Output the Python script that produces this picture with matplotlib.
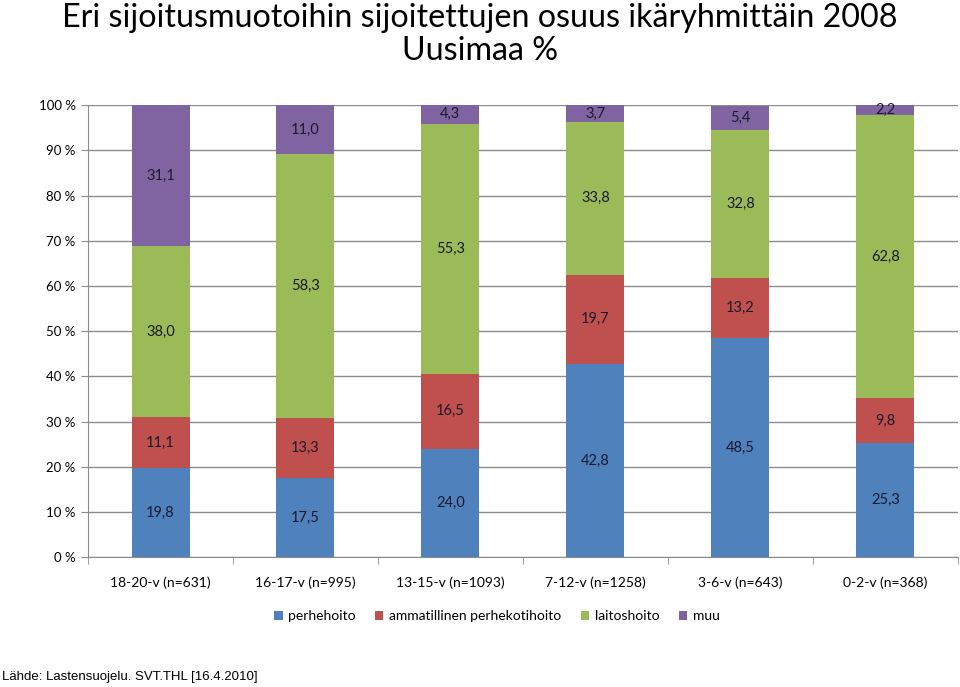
import matplotlib.pyplot as plt
import numpy as np

plt.rcParams["font.family"] = ["Lato", "DejaVu Sans"]

categories = ["18-20-v (n=631)", "16-17-v (n=995)", "13-15-v (n=1093)",
              "7-12-v (n=1258)", "3-6-v (n=643)", "0-2-v (n=368)"]
perhehoito = [19.8, 17.5, 24.0, 42.8, 48.5, 25.3]
ammatillinen = [11.1, 13.3, 16.5, 19.7, 13.2, 9.8]
laitoshoito = [38.0, 58.3, 55.3, 33.8, 32.8, 62.8]
muu = [31.1, 11.0, 4.3, 3.7, 5.4, 2.2]

series = [
    ("perhehoito", perhehoito, "#4F81BD"),
    ("ammatillinen perhekotihoito", ammatillinen, "#C0504D"),
    ("laitoshoito", laitoshoito, "#9BBB59"),
    ("muu", muu, "#8064A2"),
]

fig = plt.figure(figsize=(9.6, 6.87), dpi=100)
ax = fig.add_axes([0.0917, 0.189, 0.906, 0.658])

x = np.arange(len(categories))
bottom = np.zeros(len(categories))
for name, vals, color in series:
    vals = np.array(vals)
    ax.bar(x, vals, width=0.4, bottom=bottom, color=color, label=name, zorder=3)
    for xi, b, v in zip(x, bottom, vals):
        ax.text(xi, b + v / 2, f"{v:.1f}".replace(".", ","), ha="center", va="center",
                fontsize=10.5, color="#1a1a2e", zorder=4)
    bottom = bottom + vals

ax.set_xlim(-0.5, len(categories) - 0.5)
ax.set_ylim(0, 100)
ax.set_yticks(np.arange(0, 101, 10))
ax.set_yticklabels([f"{v} %" for v in range(0, 101, 10)], fontsize=9.5)
ax.yaxis.grid(True, color="#8c8c8c", linewidth=1, zorder=0)
ax.set_xticks(x)
ax.set_xticklabels(categories, fontsize=10)
ax.set_xticks(np.arange(-0.5, len(categories), 1), minor=True)
ax.tick_params(axis="x", which="major", length=0, pad=14)
ax.tick_params(axis="x", which="minor", length=5, color="#8c8c8c")
ax.tick_params(axis="y", length=5, color="#8c8c8c", pad=4)
for side in ["top", "right"]:
    ax.spines[side].set_visible(False)
for side in ["left", "bottom"]:
    ax.spines[side].set_color("#8c8c8c")

fig.text(0.5, 0.995, "Eri sijoitusmuotoihin sijoitettujen osuus ikäryhmittäin 2008\nUusimaa %",
         ha="center", va="top", fontsize=23.2, linespacing=1.1)

ax.legend(loc="upper center", bbox_to_anchor=(0.47, -0.09), ncol=4, frameon=False,
          fontsize=10, handlelength=0.6, handleheight=0.6, handletextpad=0.4,
          columnspacing=1.4)

fig.text(0.002, 0.015, "Lähde: Lastensuojelu. SVT.THL [16.4.2010]", ha="left", va="center",
         fontsize=9.5, family=["Liberation Sans Narrow", "Liberation Sans", "DejaVu Sans"])

fig.savefig("out.png", dpi=100)
